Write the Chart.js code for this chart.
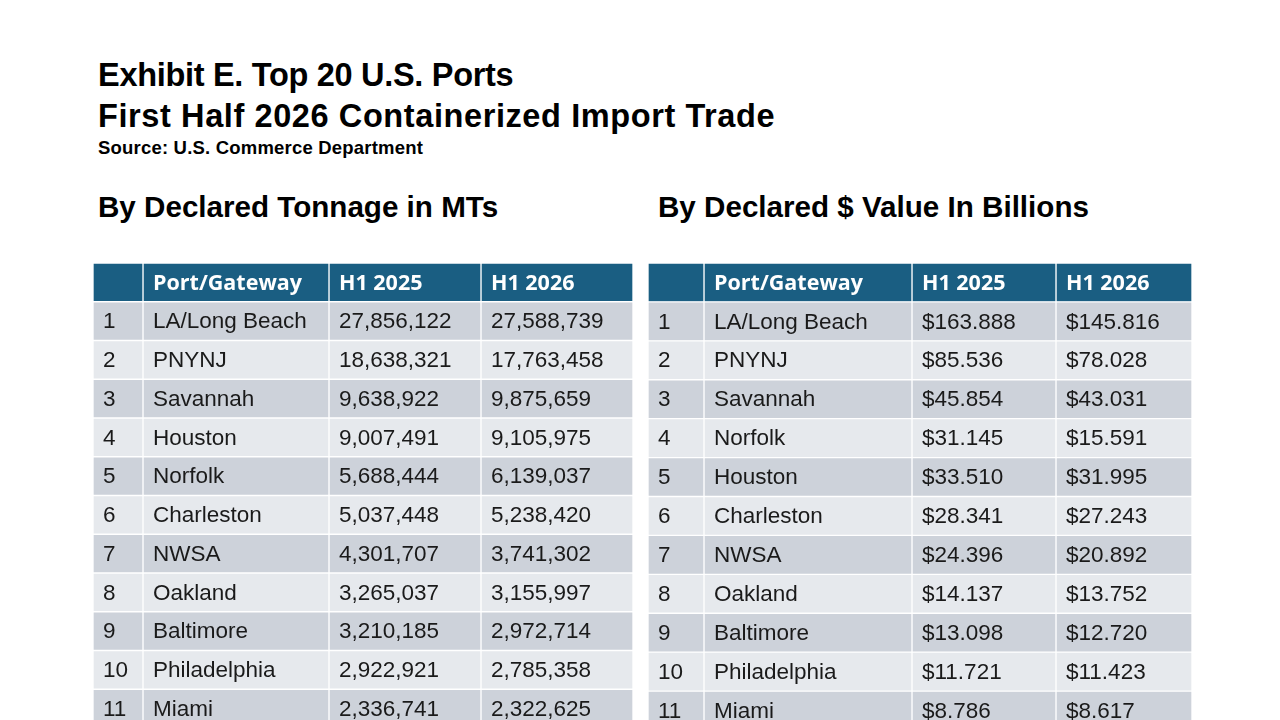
<!DOCTYPE html>
<html>
<head>
<meta charset="utf-8">
<script src="https://cdn.jsdelivr.net/npm/chart.js@4/dist/chart.umd.min.js"></script>
<style>
  html, body { margin: 0; padding: 0; width: 1280px; height: 720px; overflow: hidden; background: #fff; }
  .t { position: absolute; left: 98px; font-family: "Liberation Sans", Arial, sans-serif; font-weight: bold; color: #000; white-space: nowrap; }
  .box { position: absolute; }
</style>
</head>
<body>
<div class="t" style="top:55px;font-size:32.5px;line-height:40px;letter-spacing:-0.3px;">Exhibit E. Top 20 U.S. Ports</div>
<div class="t" style="top:96px;font-size:32.5px;line-height:40px;letter-spacing:0.6px;">First Half 2026 Containerized Import Trade</div>
<div class="t" style="top:137px;font-size:18.5px;line-height:22px;letter-spacing:0.2px;">Source: U.S. Commerce Department</div>
<div class="t" style="top:189px;font-size:29.6px;line-height:36px;">By Declared Tonnage in MTs</div>
<div class="t" style="top:189px;left:658px;font-size:29.6px;line-height:36px;">By Declared $ Value In Billions</div>

<div class="box" style="left:93px;top:263px;width:540px;height:465px;"><canvas id="tonChart"></canvas></div>
<div class="box" style="left:648px;top:263px;width:544px;height:467px;"><canvas id="valChart"></canvas></div>

<script>
// table data (first 11 of the 20 ports are visible)
var headers = ["", "Port/Gateway", "H1 2025", "H1 2026"];
var ranks = [1, 2, 3, 4, 5, 6, 7, 8, 9, 10, 11];

var tonPorts = ["LA/Long Beach", "PNYNJ", "Savannah", "Houston", "Norfolk", "Charleston",
                "NWSA", "Oakland", "Baltimore", "Philadelphia", "Miami"];
var ton2025 = [27856122, 18638321, 9638922, 9007491, 5688444, 5037448, 4301707, 3265037, 3210185, 2922921, 2336741];
var ton2026 = [27588739, 17763458, 9875659, 9105975, 6139037, 5238420, 3741302, 3155997, 2972714, 2785358, 2322625];

var valPorts = ["LA/Long Beach", "PNYNJ", "Savannah", "Norfolk", "Houston", "Charleston",
                "NWSA", "Oakland", "Baltimore", "Philadelphia", "Miami"];
var val2025 = [163.888, 85.536, 45.854, 31.145, 33.510, 28.341, 24.396, 14.137, 13.098, 11.721, 8.786];
var val2026 = [145.816, 78.028, 43.031, 15.591, 31.995, 27.243, 20.892, 13.752, 12.720, 11.423, 8.617];

// column widths in px (layout only)
var tonCols = [50, 186, 152, 152];
var valCols = [56, 208, 144, 136];

var HEAD = "#1a5e82", ODD = "#cdd2da", EVEN = "#e6e9ed";

function fmtTon(v) { return v.toLocaleString("en-US"); }
function fmtVal(v) { return "$" + v.toFixed(3); }

// build one stacked horizontal bar per row, one dataset per column
function makeTable(id, cols, columns) {
  var rows = ["head"].concat(ranks.map(String));
  var total = cols.reduce(function (a, b) { return a + b; }, 0);
  var datasets = cols.map(function (w, c) {
    return {
      data: rows.map(function () { return w; }),
      cells: [headers[c]].concat(columns[c]),
      backgroundColor: function (ctx) {
        if (ctx.dataIndex == 0) return HEAD;
        return ctx.dataIndex % 2 == 1 ? ODD : EVEN;
      },
      borderColor: "#ffffff",
      borderWidth: 1,
      borderSkipped: false,
      barPercentage: 1,
      categoryPercentage: 1
    };
  });

  new Chart(document.getElementById(id), {
    type: "bar",
    data: { labels: rows, datasets: datasets },
    options: {
      indexAxis: "y",
      responsive: true,
      maintainAspectRatio: false,
      animation: false,
      events: [],
      layout: { padding: 0 },
      plugins: { legend: { display: false }, tooltip: { enabled: false } },
      scales: {
        x: { stacked: true, min: 0, max: total, display: false },
        y: { stacked: true, display: false }
      }
    },
    plugins: [{
      id: "cellText",
      afterDatasetsDraw: function (chart) {
        var ctx = chart.ctx;
        ctx.save();
        ctx.textBaseline = "middle";
        ctx.textAlign = "left";
        chart.data.datasets.forEach(function (ds, d) {
          var meta = chart.getDatasetMeta(d);
          meta.data.forEach(function (el, i) {
            var left = Math.min(el.x, el.base);
            if (i == 0) {
              ctx.fillStyle = "#ffffff";
              ctx.font = "bold 21.5px 'Open Sans', sans-serif";
            } else {
              ctx.fillStyle = "#1a1a1a";
              ctx.font = "22.5px 'Liberation Sans', Arial, sans-serif";
            }
            ctx.fillText(String(ds.cells[i]), left + 10, el.y + 1);
          });
        });
        ctx.restore();
      }
    }]
  });
}

makeTable("tonChart", tonCols, [ranks, tonPorts, ton2025.map(fmtTon), ton2026.map(fmtTon)]);
makeTable("valChart", valCols, [ranks, valPorts, val2025.map(fmtVal), val2026.map(fmtVal)]);
</script>
</body>
</html>
